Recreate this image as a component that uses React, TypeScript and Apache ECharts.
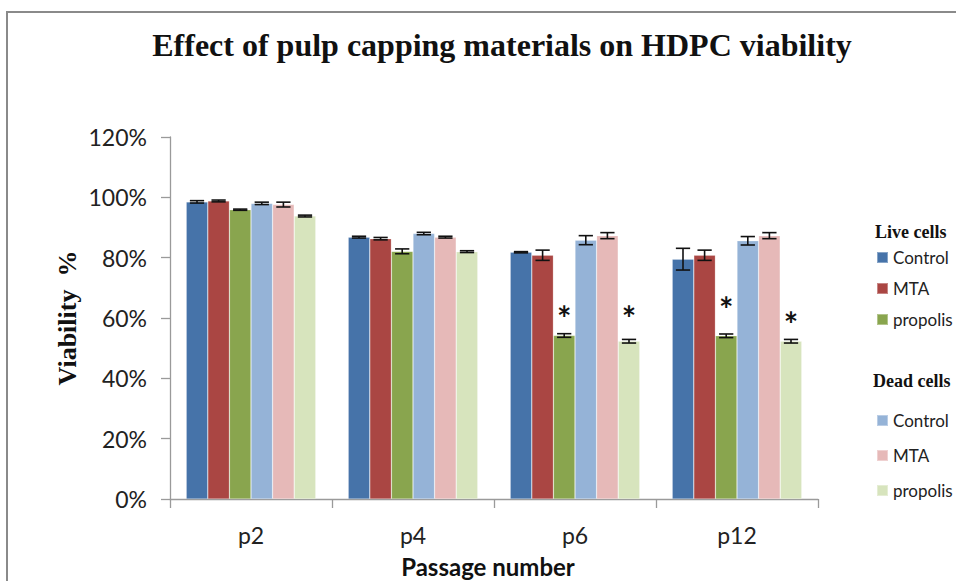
import React, { useEffect, useRef } from "react";
import * as echarts from "echarts";

const categories = ["p2", "p4", "p6", "p12"];
const yTicks = [0, 20, 40, 60, 80, 100, 120];

const liveControl = [98.5, 86.8, 81.8, 79.5];
const liveMTA = [98.8, 86.3, 80.8, 80.8];
const livePropolis = [95.9, 82.1, 54.2, 54.1];
const deadControl = [98.0, 88.0, 85.8, 85.6];
const deadMTA = [97.6, 86.8, 87.3, 87.3];
const deadPropolis = [93.8, 82.0, 52.3, 52.3];

const errLiveControl = [0.4, 0.3, 0.2, 3.6];
const errLiveMTA = [0.3, 0.4, 1.7, 1.7];
const errLivePropolis = [0.2, 0.8, 0.6, 0.6];
const errDeadControl = [0.4, 0.4, 1.5, 1.4];
const errDeadMTA = [0.8, 0.3, 1.0, 1.0];
const errDeadPropolis = [0.3, 0.3, 0.6, 0.6];

// significance markers: [category index, series index, level %]
const stars: [number, number, number][] = [
  [2, 2, 63.3],
  [2, 5, 63.0],
  [3, 2, 66.0],
  [3, 5, 61.0],
];

const seriesDefs = [
  { name: "Live Control", values: liveControl, errors: errLiveControl, color: "#4673A9" },
  { name: "Live MTA", values: liveMTA, errors: errLiveMTA, color: "#AA4643" },
  { name: "Live propolis", values: livePropolis, errors: errLivePropolis, color: "#89A54E" },
  { name: "Dead Control", values: deadControl, errors: errDeadControl, color: "#95B3D7" },
  { name: "Dead MTA", values: deadMTA, errors: errDeadMTA, color: "#E6B9B8" },
  { name: "Dead propolis", values: deadPropolis, errors: errDeadPropolis, color: "#D7E4BD" },
];

const legendTops = [259, 290, 321, 422, 457, 492];
const CAT_GAP = 0.2;
const SANS = "Lato, 'Open Sans', sans-serif";
const SERIF = "'Liberation Serif', 'Times New Roman', serif";

export default function App() {
  const ref = useRef<HTMLDivElement>(null);
  useEffect(() => {
    if (!ref.current) return;
    const chart = echarts.init(ref.current, undefined, { renderer: "svg" });
    const nSeries = seriesDefs.length;

    const barXY = (api: any, ci: number, si: number, v: number) => {
      const catW = api.size([1, 0])[0];
      const groupW = catW * (1 - CAT_GAP);
      const barW = groupW / nSeries;
      const c = api.coord([ci, v]);
      return { x: c[0] - groupW / 2 + barW * (si + 0.5), y: c[1], barW };
    };

    const errData: number[][] = [];
    seriesDefs.forEach((s, si) =>
      categories.forEach((_, ci) => errData.push([ci, s.values[ci], s.errors[ci], si]))
    );

    const option: any = {
      animation: false,
      backgroundColor: "#ffffff",
      title: {
        text: "Effect of pulp capping materials on HDPC viability",
        left: 497,
        top: 24,
        textAlign: "center",
        textStyle: { fontFamily: SERIF, fontWeight: "bold", fontSize: 32, color: "#111" },
      },
      legend: seriesDefs.map((s, i) => ({
        data: [s.name],
        left: 876,
        top: legendTops[i] - 10,
        orient: "vertical",
        icon: "rect",
        itemWidth: 11,
        itemHeight: 11,
        itemGap: 0,
        padding: 0,
        selectedMode: false,
        formatter: (n: string) => n.replace(/^(Live|Dead) /, ""),
        textStyle: { fontFamily: SANS, fontSize: 17, color: "#222", padding: [0, 0, 0, 0] },
      })),
      grid: { left: 170, right: 138, top: 137, bottom: 82, containLabel: false },
      xAxis: {
        type: "category",
        data: categories,
        axisLine: { lineStyle: { color: "#9a9a9a", width: 1.3 } },
        axisTick: { show: true, length: 9, lineStyle: { color: "#9a9a9a", width: 1.3 } },
        axisLabel: { fontFamily: SANS, fontSize: 23, color: "#222", margin: 24 },
      },
      yAxis: {
        type: "value",
        min: yTicks[0],
        max: yTicks[yTicks.length - 1],
        interval: 20,
        splitLine: { show: false },
        axisLine: { show: true, lineStyle: { color: "#9a9a9a", width: 1.3 } },
        axisTick: { show: true, length: 9, lineStyle: { color: "#9a9a9a", width: 1.3 } },
        axisLabel: {
          fontFamily: SANS,
          fontSize: 23,
          color: "#222",
          margin: 23,
          formatter: (v: number) => v + "%",
        },
      },
      graphic: [
        {
          type: "rect",
          shape: { x: 7, y: 12, width: 1200, height: 1200 },
          style: { fill: "none", stroke: "#8a8a8a", lineWidth: 2 },
          silent: true,
          z: -10,
        },
        {
          type: "text",
          x: 67,
          y: 318,
          rotation: Math.PI / 2,
          style: {
            text: "Viability  %",
            font: `bold 26px ${SERIF}`,
            fill: "#111",
            align: "center",
            verticalAlign: "middle",
          },
        },
        {
          type: "text",
          x: 488,
          y: 566,
          style: {
            text: "Passage number",
            font: `bold 24px ${SANS}`,
            fill: "#111",
            align: "center",
            verticalAlign: "middle",
          },
        },
        {
          type: "text",
          x: 875,
          y: 232,
          style: {
            text: "Live cells",
            font: `bold 18px ${SERIF}`,
            fill: "#111",
            align: "left",
            verticalAlign: "middle",
          },
        },
        {
          type: "text",
          x: 873,
          y: 381,
          style: {
            text: "Dead cells",
            font: `bold 18px ${SERIF}`,
            fill: "#111",
            align: "left",
            verticalAlign: "middle",
          },
        },
      ],
      series: [
        ...seriesDefs.map((s) => ({
          name: s.name,
          type: "bar",
          data: s.values,
          barGap: "0%",
          barCategoryGap: CAT_GAP * 100 + "%",
          itemStyle: { color: s.color, borderColor: "rgba(255,255,255,0.35)", borderWidth: 0.6 },
        })),
        {
          name: "errors",
          type: "custom",
          data: errData,
          encode: { x: 0, y: 1 },
          z: 5,
          silent: true,
          renderItem: (_p: any, api: any) => {
            const ci = api.value(0);
            const v = api.value(1);
            const e = api.value(2);
            const si = api.value(3);
            const { x, barW } = barXY(api, ci, si, v);
            const yT = api.coord([ci, v + e])[1];
            const yB = api.coord([ci, v - e])[1];
            const half = barW * 0.33;
            const st = { stroke: "#111", lineWidth: 1.6 };
            return {
              type: "group",
              children: [
                { type: "line", shape: { x1: x, y1: yT, x2: x, y2: yB }, style: st },
                { type: "line", shape: { x1: x - half, y1: yT, x2: x + half, y2: yT }, style: st },
                { type: "line", shape: { x1: x - half, y1: yB, x2: x + half, y2: yB }, style: st },
              ],
            };
          },
        },
        {
          name: "significance",
          type: "custom",
          data: stars.map(([ci, si, lvl]) => [ci, lvl, si]),
          encode: { x: 0, y: 1 },
          z: 6,
          silent: true,
          renderItem: (_p: any, api: any) => {
            const ci = api.value(0);
            const lvl = api.value(1);
            const si = api.value(2);
            const { x, y } = barXY(api, ci, si, lvl);
            return {
              type: "text",
              x,
              y: y + 9,
              style: {
                text: "*",
                font: `bold 34px ${SANS}`,
                fill: "#111",
                align: "center",
                verticalAlign: "middle",
              },
            };
          },
        },
      ],
    };
    chart.setOption(option);
    return () => chart.dispose();
  }, []);

  return (
    <div
      ref={ref}
      style={{ position: "absolute", left: 0, top: 0, width: 956, height: 581, background: "#fff" }}
    />
  );
}
